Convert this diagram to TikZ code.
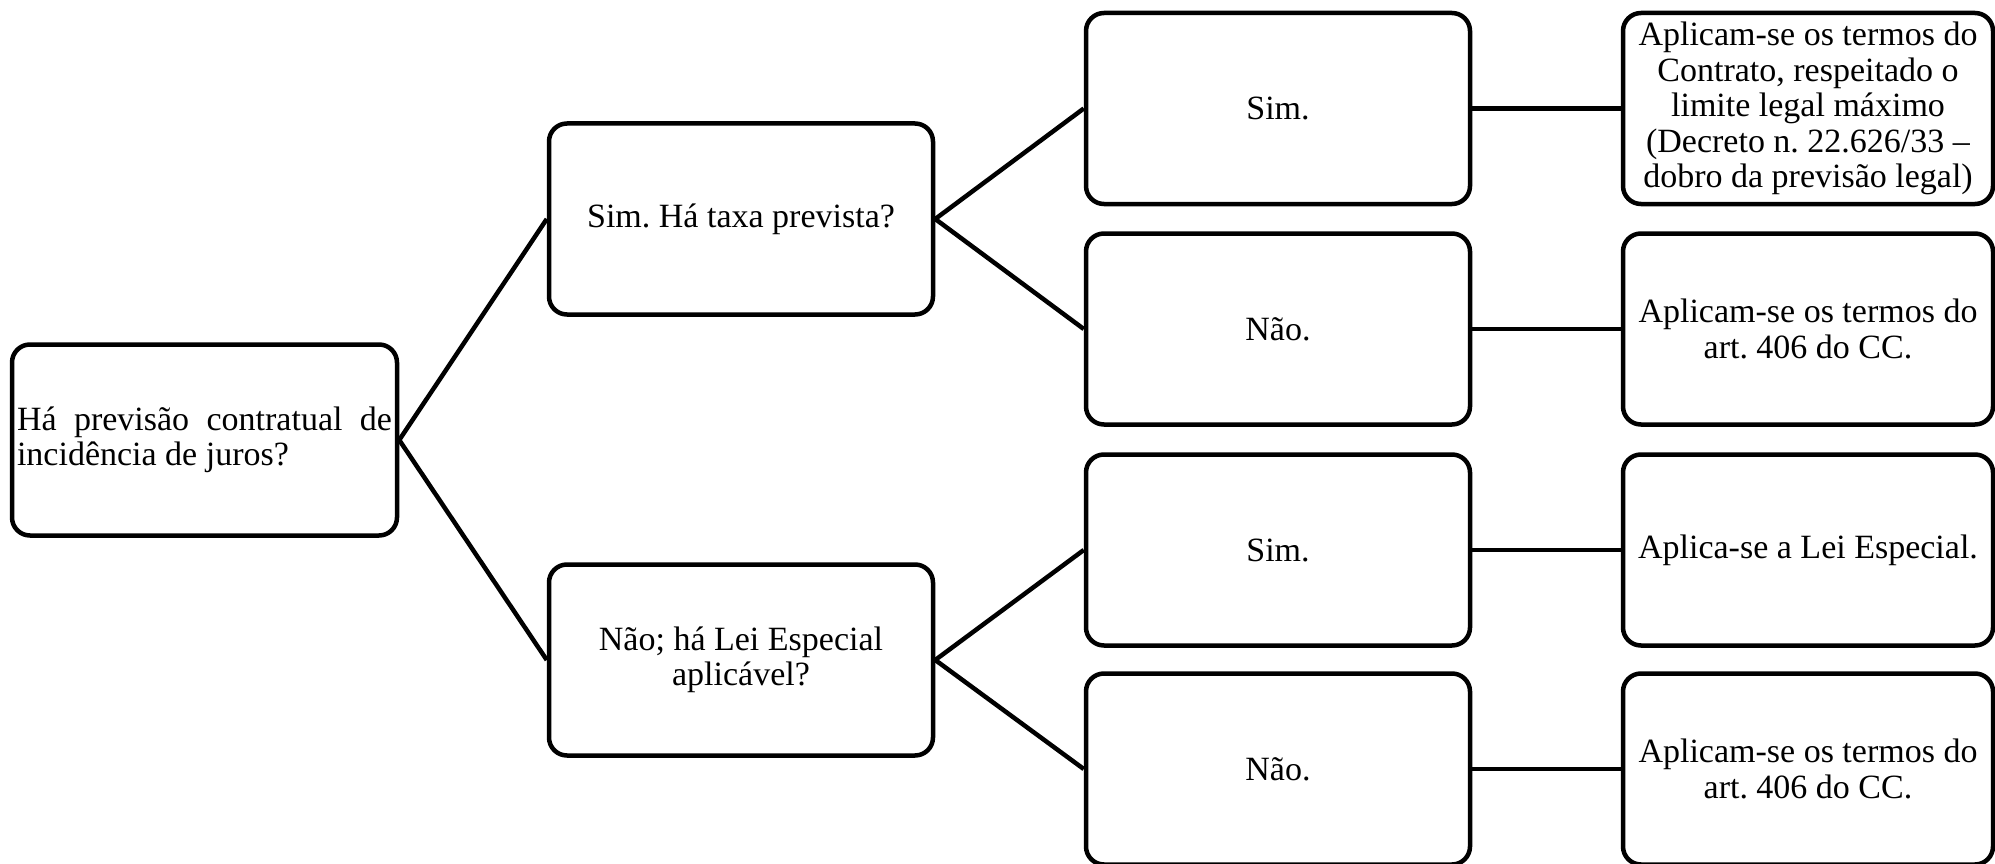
\documentclass[tikz,border=0pt]{standalone}
\usepackage{fontspec}
\setmainfont{Liberation Serif}
\frenchspacing
\begin{document}
\begin{tikzpicture}[x=1pt,y=-1pt,
  tbox/.style={draw=black, line width=4.5pt, rounded corners=18pt, inner sep=0pt,
    minimum width=384pt, minimum height=191pt, align=center,
    font=\fontsize{34}{35.5}\selectfont\frenchspacing},
  link/.style={draw=black, line width=4.5pt}]
\useasboundingbox (0,0) rectangle (1995,864);
% column 1
\node[tbox, minimum width=385pt, text width=375pt, align=justify] (root) at (204.5,440)
  {\leftskip=13pt\relax Há previsão contratual de incidência de juros?};
% column 2
\node[tbox] (qa) at (741,219) {Sim. Há taxa prevista?};
\node[tbox] (qb) at (741,660) {Não; há Lei Especial\\aplicável?};
% column 3
\node[tbox] (a1) at (1278,108.5) {Sim.};
\node[tbox] (a2) at (1278,329) {Não.};
\node[tbox] (b1) at (1278,550) {Sim.};
\node[tbox] (b2) at (1278,769) {Não.};
% column 4
\node[tbox, minimum width=370pt] (ra1) at (1808,108.5)
  {Aplicam-se os termos do\\Contrato, respeitado o\\limite legal máximo\\(Decreto n. 22.626/33 –\\dobro da previsão legal)};
\node[tbox, minimum width=370pt] (ra2) at (1808,329) {Aplicam-se os termos do\\art. 406 do CC.};
\node[tbox, minimum width=370pt] (rb1) at (1808,550) {Aplica-se a Lei Especial.};
\node[tbox, minimum width=370pt] (rb2) at (1808,769) {Aplicam-se os termos do\\art. 406 do CC.};
% connectors
\draw[link] (root.east) -- (qa.west);
\draw[link] (root.east) -- (qb.west);
\draw[link] (qa.east) -- (a1.west);
\draw[link] (qa.east) -- (a2.west);
\draw[link] (qb.east) -- (b1.west);
\draw[link] (qb.east) -- (b2.west);
\draw[link] (a1.east) -- (ra1.west);
\draw[link] (a2.east) -- (ra2.west);
\draw[link] (b1.east) -- (rb1.west);
\draw[link] (b2.east) -- (rb2.west);
\end{tikzpicture}
\end{document}
